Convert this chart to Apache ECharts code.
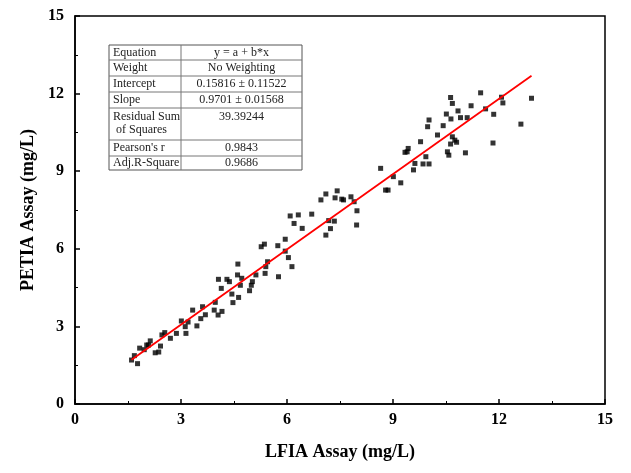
<!DOCTYPE html>
<html>
<head>
<meta charset="utf-8">
<script src="https://cdn.jsdelivr.net/npm/echarts@6/dist/echarts.min.js"></script>
<style>
  html, body { margin: 0; padding: 0; background: #fff; }
  #main { width: 631px; height: 473px; }
</style>
</head>
<body>
<div id="main"></div>
<script>
// LFIA (x) vs PETIA (y), mg/L
const lfia = [1.60, 1.68, 1.77, 1.83, 1.96, 2.03, 2.08, 2.13, 2.27, 2.37, 2.42, 2.46, 2.54, 2.70, 2.87,
  3.01, 3.12, 3.14, 3.20, 3.33, 3.45, 3.56, 3.61, 3.69, 3.94, 3.97, 4.05, 4.16, 4.06, 4.14,
  4.30, 4.37, 4.44, 4.47, 4.60, 4.63, 4.68, 4.61, 4.72, 4.94, 4.99, 5.02, 5.12, 5.27, 5.36,
  5.40, 5.38, 5.45, 5.74, 5.76, 5.95, 5.95, 6.04, 6.14, 6.09, 6.20, 6.32, 6.43, 6.70, 6.96,
  7.10, 7.10, 7.18, 7.23, 7.34, 7.36, 7.42, 7.55, 7.60, 7.81, 7.90, 7.98, 7.97, 8.65, 8.79,
  8.86, 9.01, 9.22, 9.34, 9.40, 9.43, 9.58, 9.62, 9.78, 9.85, 9.93, 10.02, 9.98, 10.02, 10.26,
  10.42, 10.51, 10.64, 10.84, 10.91, 11.10, 10.68, 10.75, 10.80, 10.63, 10.54, 10.58, 11.05, 10.63, 10.68,
  11.21, 11.48, 11.62, 11.85, 12.07, 12.11, 11.83, 12.62, 12.92];
const petia = [1.70, 1.87, 1.56, 2.16, 2.10, 2.28, 2.28, 2.44, 1.98, 2.01, 2.24, 2.67, 2.76, 2.54, 2.73,
  3.21, 2.99, 2.73, 3.17, 3.63, 3.02, 3.30, 3.76, 3.45, 3.63, 3.93, 3.44, 3.58, 4.82, 4.47,
  4.82, 4.73, 4.25, 3.92, 4.99, 4.12, 4.59, 5.41, 4.86, 4.38, 4.59, 4.73, 4.99, 6.08, 6.18,
  5.31, 5.05, 5.50, 6.12, 4.92, 6.37, 5.91, 5.66, 5.31, 7.27, 6.98, 7.31, 6.79, 7.34, 7.89,
  8.12, 6.53, 7.09, 6.78, 7.07, 7.97, 8.24, 7.92, 7.89, 8.01, 7.82, 7.47, 6.92, 9.11, 8.27,
  8.27, 8.79, 8.55, 9.73, 9.75, 9.88, 9.05, 9.30, 10.14, 9.28, 9.56, 9.28, 10.72, 10.98, 10.40,
  10.76, 11.21, 11.02, 11.33, 11.07, 11.07, 10.33, 10.20, 10.12, 10.05, 9.75, 9.62, 9.71, 11.85, 11.62,
  11.53, 12.03, 11.41, 11.20, 11.86, 11.64, 10.09, 10.82, 11.82];

// fitted line end points
const fitX = [1.60, 12.92];
const fitY = [1.71, 12.69];

const tickValues = [0, 3, 6, 9, 12, 15];

const tableLabels = ["Equation", "Weight", "Intercept", "Slope", "Residual Sum\n of Squares", "Pearson's r", "Adj.R-Square"];
const tableValues = ["y = a + b*x", "No Weighting", "0.15816 \u00b1 0.11522", "0.9701 \u00b1 0.01568", "39.39244", "0.9843", "0.9686"];

const serif = "'Liberation Serif', 'Times New Roman', serif";

function buildTable() {
  const left = 109, right = 302, mid = 181, top = 45;
  const heights = [15, 16, 16, 16, 32, 16, 14];
  const els = [];
  let y = top;
  const total = heights.reduce((a, b) => a + b, 0);
  els.push({
    type: "rect",
    shape: { x: left, y: top, width: right - left, height: total },
    style: { fill: "#fff", stroke: "#555", lineWidth: 1 }
  });
  els.push({
    type: "line",
    shape: { x1: mid, y1: top, x2: mid, y2: top + total },
    style: { stroke: "#777", lineWidth: 1 }
  });
  for (let i = 0; i < tableLabels.length; i++) {
    const h = heights[i];
    if (i > 0) {
      els.push({
        type: "line",
        shape: { x1: left, y1: y, x2: right, y2: y },
        style: { stroke: "#777", lineWidth: 1 }
      });
    }
    const multi = tableLabels[i].indexOf("\n") >= 0;
    els.push({
      type: "text",
      x: left + 4,
      y: multi ? y + 2 : y + h / 2,
      style: {
        text: tableLabels[i], font: "12px " + serif, fill: "#222",
        align: "left", verticalAlign: multi ? "top" : "middle", lineHeight: 13
      }
    });
    els.push({
      type: "text",
      x: (mid + right) / 2,
      y: multi ? y + 2 : y + h / 2,
      style: {
        text: tableValues[i], font: "12px " + serif, fill: "#222",
        align: "center", verticalAlign: multi ? "top" : "middle", lineHeight: 13
      }
    });
    y += h;
  }
  return els;
}

const chart = echarts.init(document.getElementById("main"));
const axisCommon = {
  type: "value",
  min: 0,
  max: 15,
  interval: 3,
  axisLine: { show: true, onZero: false, lineStyle: { color: "#000", width: 1.5 } },
  axisTick: { show: true, inside: true, length: 5, lineStyle: { color: "#000", width: 1.5 } },
  minorTick: { show: true, splitNumber: 2, length: 3, lineStyle: { color: "#000", width: 1 } },
  splitLine: { show: false },
  nameLocation: "middle",
  nameTextStyle: { fontFamily: serif, fontWeight: "bold", fontSize: 18, color: "#000" }
};

chart.setOption({
  animation: false,
  backgroundColor: "#fff",
  grid: { left: 75, right: 26, top: 16, bottom: 69, show: true, borderColor: "#000", borderWidth: 1.5 },
  xAxis: Object.assign({}, axisCommon, {
    name: "LFIA Assay (mg/L)",
    nameGap: 39,
    axisLabel: {
      margin: 8, fontFamily: serif, fontWeight: "bold", fontSize: 16, color: "#000",
      customValues: tickValues
    }
  }),
  yAxis: Object.assign({}, axisCommon, {
    name: "PETIA Assay (mg/L)",
    nameGap: 33,
    axisLabel: { margin: 11, fontFamily: serif, fontWeight: "bold", fontSize: 16, color: "#000" }
  }),
  series: [
    {
      type: "scatter",
      symbol: "rect",
      symbolSize: 5,
      itemStyle: { color: "#000" },
      data: lfia.map((x, i) => [x, petia[i]]),
      z: 2
    },
    {
      type: "line",
      data: fitX.map((x, i) => [x, fitY[i]]),
      showSymbol: false,
      lineStyle: { color: "#f00", width: 1.8 },
      z: 3
    }
  ],
  graphic: buildTable()
});
</script>
</body>
</html>
